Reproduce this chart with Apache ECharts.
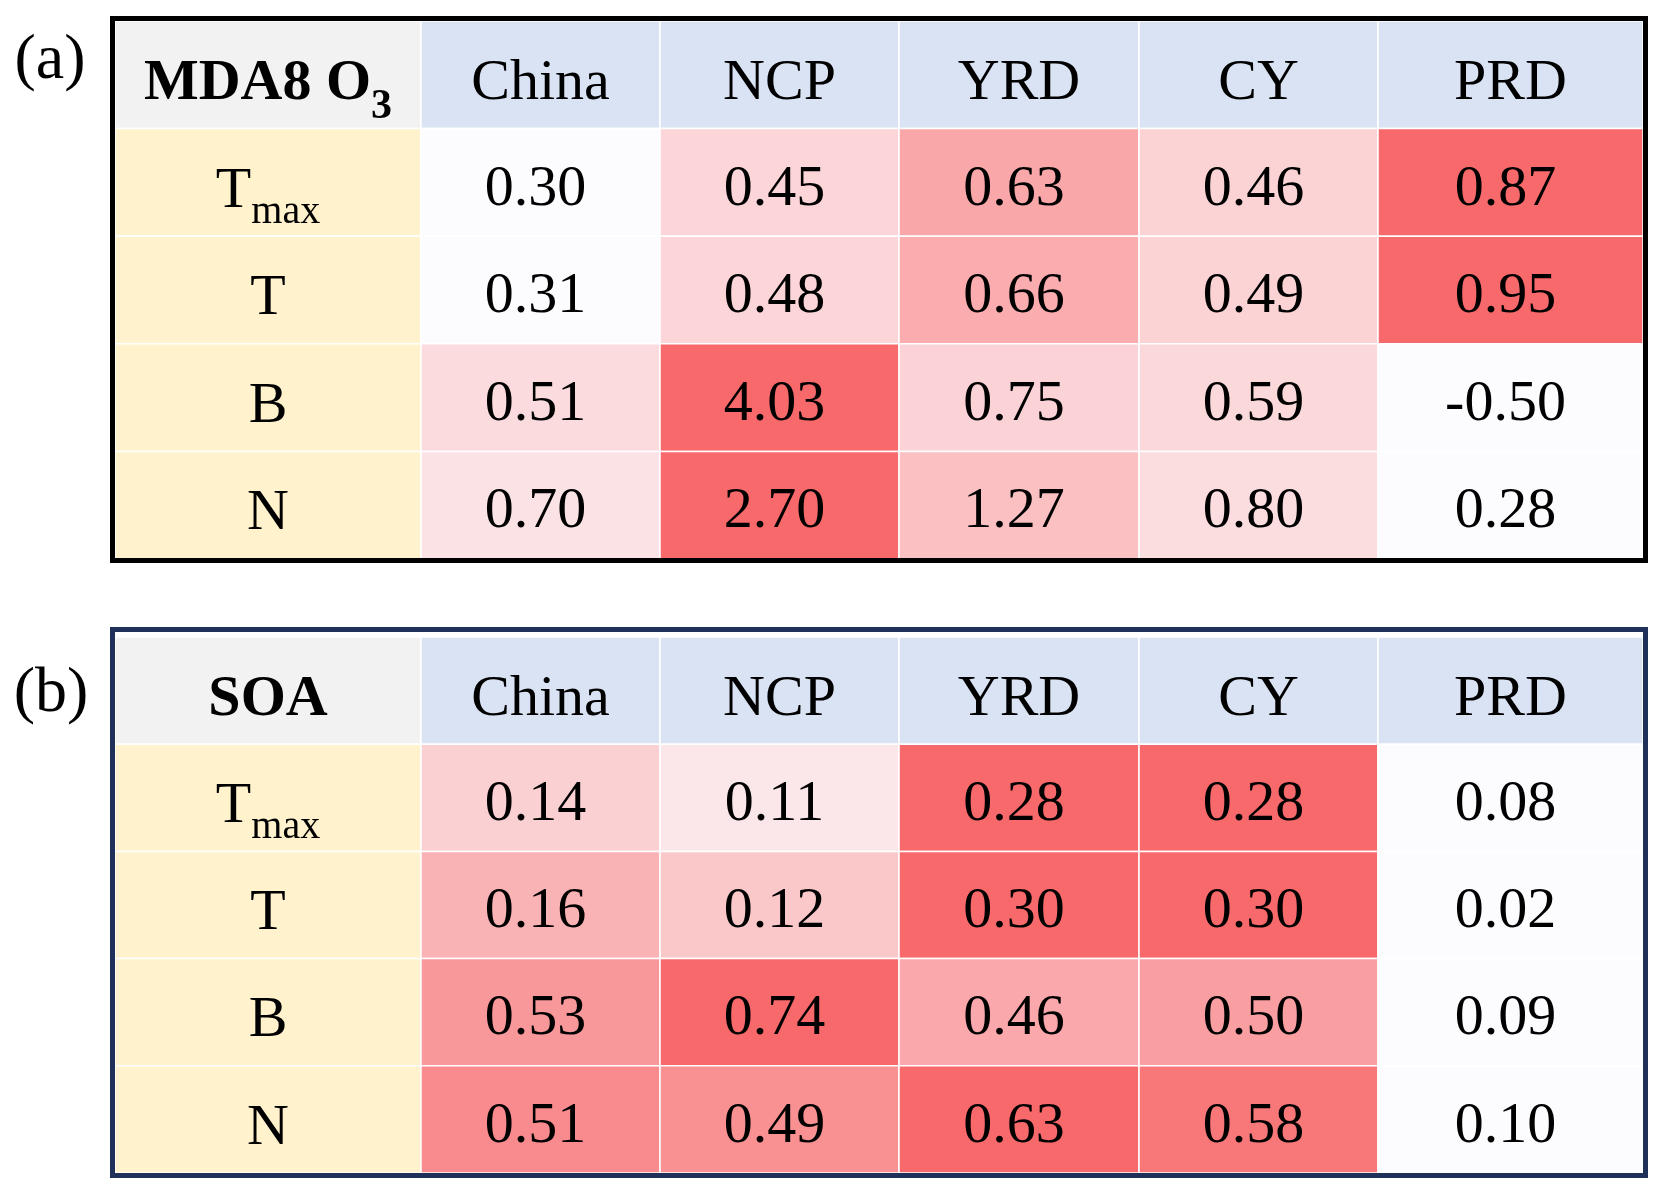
<!DOCTYPE html>
<html>
<head>
<meta charset="utf-8">
<title>MDA8 O3 / SOA</title>
<script src="https://cdn.jsdelivr.net/npm/echarts@6/dist/echarts.min.js"></script>
<style>
    html, body { margin: 0; padding: 0; background: #ffffff; }
    #main { width: 1665px; height: 1194px; }
</style>
</head>
<body>
<div id="main"></div>
<script>
// ---- data ----
var regions = ['China', 'NCP', 'YRD', 'CY', 'PRD'];
var factors = ['T_max', 'T', 'B', 'N'];            // _xxx = subscript
var tableTitles = ['MDA8 O_3', 'SOA'];
var panelLabels = ['(a)', '(b)'];

// rows follow factors, columns follow regions
var o3Values = [
    [0.30, 0.45, 0.63, 0.46, 0.87],
    [0.31, 0.48, 0.66, 0.49, 0.95],
    [0.51, 4.03, 0.75, 0.59, -0.50],
    [0.70, 2.70, 1.27, 0.80, 0.28]
];
var soaValues = [
    [0.14, 0.11, 0.28, 0.28, 0.08],
    [0.16, 0.12, 0.30, 0.30, 0.02],
    [0.53, 0.74, 0.46, 0.50, 0.09],
    [0.51, 0.49, 0.63, 0.58, 0.10]
];

// ---- layout / style ----
var colWidths = [306, 239, 239, 240, 239, 265];   // label column + 5 regions
var colEdges = [0];
colWidths.forEach(function (w, i) { colEdges.push(colEdges[i] + w); });
var tableWidth = colEdges[colEdges.length - 1];

var FONT = '"Liberation Serif", "Times New Roman", serif';
var headFill = { corner: '#F2F2F2', region: '#DAE3F3', factor: '#FFF2CC' };

var richStyles = {
    m:  { fontFamily: FONT, fontSize: 58, lineHeight: 60, padding: [0, 0, 10, 0], verticalAlign: 'top', fill: '#000' },
    s:  { fontFamily: FONT, fontSize: 40, lineHeight: 40, padding: [30, 0, 0, 0], verticalAlign: 'top', fill: '#000' },
    mb: { fontFamily: FONT, fontSize: 58, fontWeight: 'bold', lineHeight: 60, padding: [0, 0, 10, 0], verticalAlign: 'top', fill: '#000' },
    sb: { fontFamily: FONT, fontSize: 42, fontWeight: 'bold', lineHeight: 42, padding: [31, 0, 0, 0], verticalAlign: 'top', fill: '#000' }
};

// 'T_max' -> rich text with subscript
function richLabel(str, bold) {
    var parts = str.split('_');
    var m = bold ? 'mb' : 'm', s = bold ? 'sb' : 's';
    var out = '{' + m + '|' + parts[0] + '}';
    if (parts[1]) out += '{' + s + '|' + parts[1] + '}';
    return out;
}

// colour by position inside each row (row min -> white, row max -> red)
function rowScaled(values) {
    var items = [];
    values.forEach(function (row, r) {
        var lo = Math.min.apply(null, row);
        var hi = Math.max.apply(null, row);
        row.forEach(function (v, c) {
            items.push([c + 1, r + 1, v, (v - lo) / (hi - lo)]);
        });
    });
    return items;
}

function headerCells(title) {
    var cells = [{ col: 0, row: 0, text: title, kind: 'corner', bold: true }];
    regions.forEach(function (name, i) {
        cells.push({ col: i + 1, row: 0, text: name, kind: 'region' });
    });
    factors.forEach(function (name, i) {
        cells.push({ col: 0, row: i + 1, text: name, kind: 'factor' });
    });
    return cells;
}

function cellBox(api, col, row) {
    var p0 = api.coord([colEdges[col], row]);
    var p1 = api.coord([colEdges[col + 1], row + 1]);
    return { x: p0[0], y: p0[1], width: p1[0] - p0[0], height: p1[1] - p0[1] };
}

function headerRender(cells) {
    return function (params, api) {
        var c = cells[params.dataIndex];
        var box = cellBox(api, c.col, c.row);
        return {
            type: 'group',
            children: [{
                type: 'rect',
                shape: box,
                style: { fill: headFill[c.kind], stroke: '#ffffff', lineWidth: 1.5 }
            }, {
                type: 'text',
                style: {
                    text: richLabel(c.text, c.bold),
                    rich: richStyles,
                    x: box.x + box.width / 2,
                    y: box.y + box.height / 2 + 10,
                    align: 'center',
                    verticalAlign: 'middle'
                }
            }]
        };
    };
}

function valueRender(params, api) {
    var box = cellBox(api, api.value(0), api.value(1));
    return {
        type: 'group',
        children: [{
            type: 'rect',
            shape: box,
            style: { fill: api.visual('color'), stroke: '#ffffff', lineWidth: 1.5 }
        }, {
            type: 'text',
            style: {
                text: api.value(2).toFixed(2),
                x: box.x + box.width / 2 - 5,
                y: box.y + box.height / 2 + 7,
                align: 'center',
                verticalAlign: 'middle',
                fontFamily: FONT,
                fontSize: 58,
                fill: '#000'
            }
        }]
    };
}

var tables = [
    { title: tableTitles[0], values: o3Values, top: 21, height: 538 },
    { title: tableTitles[1], values: soaValues, top: 637, height: 536 }
];

var grids = [], xAxes = [], yAxes = [], series = [];
tables.forEach(function (t, k) {
    grids.push({ left: 115, top: t.top, width: tableWidth, height: t.height });
    xAxes.push({ type: 'value', gridIndex: k, min: 0, max: tableWidth, show: false });
    yAxes.push({ type: 'value', gridIndex: k, min: 0, max: factors.length + 1, inverse: true, show: false });
    var cells = headerCells(t.title);
    series.push({
        type: 'custom',
        xAxisIndex: k,
        yAxisIndex: k,
        renderItem: headerRender(cells),
        data: cells.map(function (c) { return [c.col, c.row]; }),
        silent: true
    });
    series.push({
        type: 'custom',
        xAxisIndex: k,
        yAxisIndex: k,
        renderItem: valueRender,
        data: rowScaled(t.values),
        silent: true
    });
});

var chart = echarts.init(document.getElementById('main'));
chart.setOption({
    backgroundColor: '#ffffff',
    animation: false,
    grid: grids,
    xAxis: xAxes,
    yAxis: yAxes,
    visualMap: {
        type: 'continuous',
        show: false,
        seriesIndex: [1, 3],
        dimension: 3,
        min: 0,
        max: 1,
        inRange: { color: ['#FCFCFF', '#F8696B'] }
    },
    graphic: [
        // table frames
        { type: 'rect', z: 10, shape: { x: 112.5, y: 18.5, width: 1533, height: 542 },
          style: { fill: 'none', stroke: '#000000', lineWidth: 5 } },
        { type: 'rect', z: 10, shape: { x: 112.5, y: 629.5, width: 1533, height: 546 },
          style: { fill: 'none', stroke: '#1F3158', lineWidth: 5 } },
        // panel labels
        { type: 'text', z: 10, style: { text: panelLabels[0], x: 50, y: 61, align: 'center', verticalAlign: 'middle',
          fontFamily: FONT, fontSize: 64, fill: '#000' } },
        { type: 'text', z: 10, style: { text: panelLabels[1], x: 51, y: 694, align: 'center', verticalAlign: 'middle',
          fontFamily: FONT, fontSize: 64, fill: '#000' } }
    ],
    series: series
});
</script>
</body>
</html>
